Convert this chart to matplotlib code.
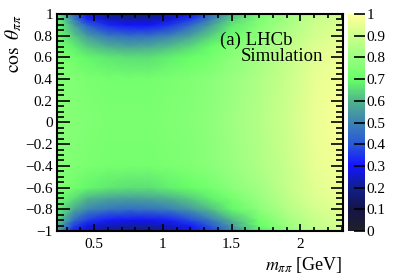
import matplotlib
matplotlib.use("Agg")
import matplotlib.pyplot as plt
import numpy as np
from matplotlib.colors import LinearSegmentedColormap
from matplotlib.ticker import MultipleLocator, FuncFormatter

plt.rcParams['font.family'] = ['Liberation Serif', 'DejaVu Serif']
plt.rcParams['mathtext.fontset'] = 'stix'

# efficiency map (rows: cos theta, columns: m_pipi)
m_pipi = [0.23, 0.35, 0.45, 0.6, 0.75, 0.9, 1.05, 1.2, 1.35, 1.5, 1.7, 1.9, 2.1, 2.31]
cos_theta = [-1.0, -0.95, -0.9, -0.8, -0.7, -0.6, -0.4, 0.0, 0.4, 0.6, 0.7, 0.8, 0.9, 0.95, 1.0]
eff = [
    [0.56, 0.32, 0.24, 0.20, 0.18, 0.18, 0.21, 0.27, 0.36, 0.50, 0.67, 0.79, 0.87, 0.91],
    [0.60, 0.37, 0.28, 0.24, 0.22, 0.22, 0.25, 0.31, 0.41, 0.55, 0.70, 0.80, 0.88, 0.92],
    [0.64, 0.45, 0.36, 0.31, 0.29, 0.29, 0.32, 0.38, 0.48, 0.60, 0.72, 0.82, 0.89, 0.93],
    [0.69, 0.58, 0.51, 0.47, 0.45, 0.46, 0.49, 0.54, 0.61, 0.69, 0.77, 0.85, 0.91, 0.95],
    [0.72, 0.66, 0.60, 0.57, 0.56, 0.57, 0.59, 0.63, 0.68, 0.73, 0.80, 0.87, 0.93, 0.96],
    [0.75, 0.72, 0.69, 0.67, 0.66, 0.66, 0.68, 0.70, 0.73, 0.77, 0.82, 0.88, 0.94, 0.97],
    [0.76, 0.75, 0.74, 0.73, 0.73, 0.73, 0.74, 0.75, 0.77, 0.80, 0.84, 0.89, 0.95, 0.98],
    [0.77, 0.76, 0.75, 0.74, 0.74, 0.74, 0.75, 0.76, 0.78, 0.81, 0.85, 0.90, 0.96, 0.99],
    [0.76, 0.75, 0.74, 0.73, 0.73, 0.73, 0.74, 0.75, 0.77, 0.80, 0.84, 0.89, 0.95, 0.98],
    [0.75, 0.72, 0.69, 0.67, 0.66, 0.66, 0.68, 0.70, 0.73, 0.77, 0.82, 0.88, 0.94, 0.97],
    [0.73, 0.68, 0.63, 0.59, 0.57, 0.58, 0.61, 0.65, 0.70, 0.75, 0.80, 0.87, 0.93, 0.96],
    [0.71, 0.63, 0.55, 0.48, 0.45, 0.46, 0.50, 0.56, 0.64, 0.71, 0.78, 0.85, 0.91, 0.95],
    [0.70, 0.56, 0.42, 0.33, 0.30, 0.30, 0.35, 0.44, 0.56, 0.67, 0.76, 0.83, 0.90, 0.93],
    [0.69, 0.50, 0.33, 0.25, 0.22, 0.23, 0.27, 0.36, 0.50, 0.64, 0.75, 0.82, 0.89, 0.92],
    [0.68, 0.45, 0.28, 0.20, 0.18, 0.18, 0.22, 0.30, 0.45, 0.60, 0.73, 0.81, 0.88, 0.91],
]

palette = ['#202028', '#141448', '#10208e', '#1414ff', '#2858d8', '#3c82b4',
           '#50b48c', '#66ff66', '#99ff80', '#ccff8c', '#ffff99']
cmap = LinearSegmentedColormap.from_list('lhcb', list(zip(np.linspace(0, 1, len(palette)), palette)))

W, H = 407, 276
fig = plt.figure(figsize=(W / 100, H / 100), dpi=100)
ax = fig.add_axes([57 / W, 1 - 231 / H, (343 - 57) / W, (231 - 14) / H])
cax = fig.add_axes([348 / W, 1 - 231 / H, (365 - 348) / W, (231 - 14) / H])

mesh = ax.pcolormesh(m_pipi, cos_theta, np.array(eff), shading='gouraud',
                     cmap=cmap, vmin=0, vmax=1, rasterized=True)
ax.set_xlim(0.23, 2.31)
ax.set_ylim(-1, 1)

fmt = FuncFormatter(lambda v, p: ('%g' % round(v, 3)).replace('-', '\u2212'))
ax.xaxis.set_major_locator(MultipleLocator(0.5))
ax.xaxis.set_minor_locator(MultipleLocator(0.1))
ax.yaxis.set_major_locator(MultipleLocator(0.2))
ax.yaxis.set_minor_locator(MultipleLocator(0.05))
ax.xaxis.set_major_formatter(fmt)
ax.yaxis.set_major_formatter(fmt)
ax.tick_params(which='both', direction='in', top=True, right=True, labelsize=11, width=1.2)
ax.tick_params(axis='x', which='major', length=5, pad=5)
ax.tick_params(axis='x', which='minor', length=3)
ax.tick_params(axis='y', which='major', length=9, pad=3)
ax.tick_params(axis='y', which='minor', length=5)
for s in ax.spines.values():
    s.set_linewidth(1.5)

ax.set_xlabel(r'$m_{\pi\pi}$ [GeV]', loc='right', fontsize=13, labelpad=3)
ax.set_ylabel(r'$\cos\ \theta_{\pi\pi}$', loc='top', fontsize=14)
ax.yaxis.set_label_coords(-0.115, 1.0)

fig.text(220 / W, 1 - 45 / H, '(a) LHCb', fontsize=13.5, ha='left', va='baseline')
fig.text(323 / W, 1 - 61 / H, 'Simulation', fontsize=13.5, ha='right', va='baseline')

cb = fig.colorbar(mesh, cax=cax)
cb.set_ticks(np.arange(0, 1.01, 0.1))
cb.ax.yaxis.set_major_formatter(FuncFormatter(lambda v, p: '%g' % round(v, 2)))
cb.ax.tick_params(direction='in', length=8, width=1.2, labelsize=11, pad=1)
cb.outline.set_visible(False)

fig.savefig('out.png', dpi=100)
